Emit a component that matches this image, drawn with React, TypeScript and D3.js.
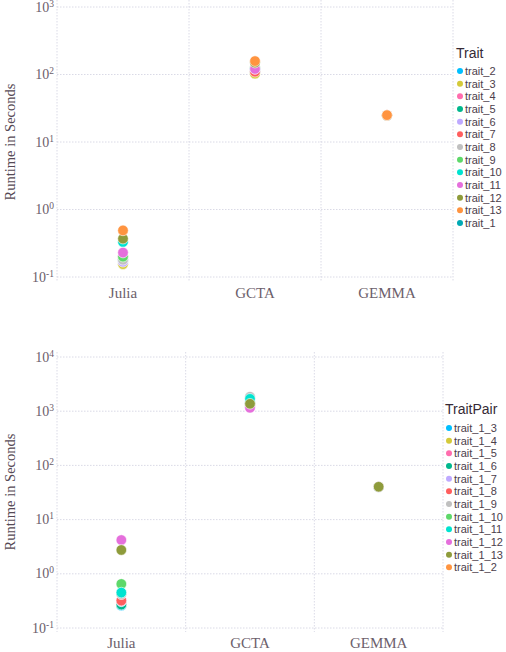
import React from "react";
import * as d3 from "d3";

const methods = ["Julia", "GCTA", "GEMMA"];

const traitsTop = ["trait_2","trait_3","trait_4","trait_5","trait_6","trait_7","trait_8","trait_9","trait_10","trait_11","trait_12","trait_13","trait_1"];
const traitsBottom = ["trait_1_3","trait_1_4","trait_1_5","trait_1_6","trait_1_7","trait_1_8","trait_1_9","trait_1_10","trait_1_11","trait_1_12","trait_1_13","trait_1_2"];

const palette = ["#00BFFF","#D4CA3A","#FF6DAE","#00B78D","#BEA9FF","#FF5E5E","#C0C0C0","#5ED86A","#00E3D0","#E56FDC","#8E9B3B","#FF9440","#00A9B4"];

// runtime (s) per trait, in legend order: Julia, GCTA, GEMMA
const topJulia = [0.18, 0.155, 0.19, 0.18, 0.168, 0.2, 0.18, 0.2, 0.33, 0.23, 0.37, 0.49, 0.17];
const topGCTA = [108, 103, 118, 115, 120, 110, 127, 128, 122, 121, 150, 158, 112];
const topGEMMA = [24.6, 24.8, 25.0, 24.7, 24.9, 25.1, 24.8, 25.0, 24.9, 25.0, 24.9, 25.0, 24.7];

const botJulia = [0.26, 0.28, 0.285, 0.27, 0.31, 0.32, 0.42, 0.65, 0.45, 4.2, 2.75, 0.3];
const botGCTA = [1500, 1300, 1250, 1300, 1400, 1300, 1850, 1400, 1690, 1155, 1370, 1300];
const botGEMMA = [40, 40.5, 39.8, 40.2, 40, 40.1, 39.9, 40.3, 40, 40.2, 40.3, 40];

const topTicks = [0.1, 1, 10, 100, 1000];
const botTicks = [0.1, 1, 10, 100, 1000, 10000];

const serif = "'Liberation Serif', 'DejaVu Serif', serif";
const sans = "'Liberation Sans', Arial, sans-serif";
const gridColor = "#D0D0E0";

type PanelProps = {
  traits: string[];
  julia: number[];
  gcta: number[];
  gemma: number[];
  ticks: number[];
  xRange: [number, number];
  yDomain: [number, number];
  yRange: [number, number];
  gridTop: number;
  gridBottom: number;
  drawOrder: number[];
  labelY: number;
  xLabelY: number;
  legendTitle: string;
  legendX: number;
  legendTitleY: number;
  legendStartY: number;
};

function Panel(p: PanelProps) {
  const x = d3.scaleBand<string>().domain(methods).range(p.xRange).padding(0);
  const y = d3.scaleLog().domain(p.yDomain).range(p.yRange);
  const step = 12.67;
  const series = [p.julia, p.gcta, p.gemma];
  const bounds = [p.xRange[0], ...methods.slice(1).map((m) => x(m) as number), p.xRange[1]];
  return (
    <g>
      {bounds.map((bx, i) => (
        <line key={"v" + i} x1={bx} x2={bx} y1={p.gridTop} y2={p.gridBottom} stroke={gridColor} strokeWidth={0.8} strokeDasharray="1.5,1.5" />
      ))}
      {p.ticks.map((t) => (
        <line key={"h" + t} x1={p.xRange[0]} x2={p.xRange[1]} y1={y(t)} y2={y(t)} stroke={gridColor} strokeWidth={0.8} strokeDasharray="1.5,1.5" />
      ))}
      {p.ticks.map((t) => (
        <text key={"t" + t} x={54} y={y(t) + 4.5} textAnchor="end" fontFamily={serif} fontSize={14} fill="#6c606b">
          10<tspan dy={-5} fontSize={9.5}>{Math.round(Math.log10(t))}</tspan>
        </text>
      ))}
      {methods.map((m) => (
        <text key={m} x={(x(m) as number) + x.bandwidth() / 2} y={p.xLabelY} textAnchor="middle" fontFamily={serif} fontSize={15} fill="#6c606b">{m}</text>
      ))}
      <text transform={`translate(15,${p.labelY}) rotate(-90)`} textAnchor="middle" fontFamily={serif} fontSize={14.5} fill="#564a55">Runtime in Seconds</text>
      {methods.map((m, mi) =>
        p.drawOrder.map((ti) => (
          <circle key={m + ti} cx={(x(m) as number) + x.bandwidth() / 2} cy={y(series[mi][ti])} r={5.3} fill={palette[ti]} stroke="#ffffff" strokeWidth={0.6} />
        ))
      )}
      <text x={p.legendX} y={p.legendTitleY + 5} fontFamily={sans} fontSize={14} fill="#362a35">{p.legendTitle}</text>
      {p.traits.map((t, i) => (
        <g key={t}>
          <circle cx={p.legendX + 4} cy={p.legendStartY + i * step} r={3} fill={palette[i]} />
          <text x={p.legendX + 9} y={p.legendStartY + i * step + 4} fontFamily={sans} fontSize={11} fill="#4c404b">{t}</text>
        </g>
      ))}
    </g>
  );
}

export default function App() {
  const topOrder = [12, 0, 1, 2, 3, 4, 5, 6, 7, 8, 9, 10, 11];
  const botOrder = [11, 0, 1, 2, 3, 4, 5, 6, 7, 8, 9, 10];
  return (
    <svg width={506} height={652} style={{ position: "absolute", left: 0, top: 0, background: "#fff" }}>
      <Panel traits={traitsTop} julia={topJulia} gcta={topGCTA} gemma={topGEMMA} ticks={topTicks}
        xRange={[57, 453]} yDomain={[0.1, 1000]} yRange={[277, 7]} gridTop={0} gridBottom={282}
        drawOrder={topOrder} labelY={142} xLabelY={298} legendTitle="Trait" legendX={456} legendTitleY={53} legendStartY={71} />
      <Panel traits={traitsBottom} julia={botJulia} gcta={botGCTA} gemma={botGEMMA} ticks={botTicks}
        xRange={[57, 443]} yDomain={[0.1, 10000]} yRange={[628, 357]} gridTop={352} gridBottom={632}
        drawOrder={botOrder} labelY={492} xLabelY={648} legendTitle="TraitPair" legendX={445} legendTitleY={409} legendStartY={428} />
    </svg>
  );
}
